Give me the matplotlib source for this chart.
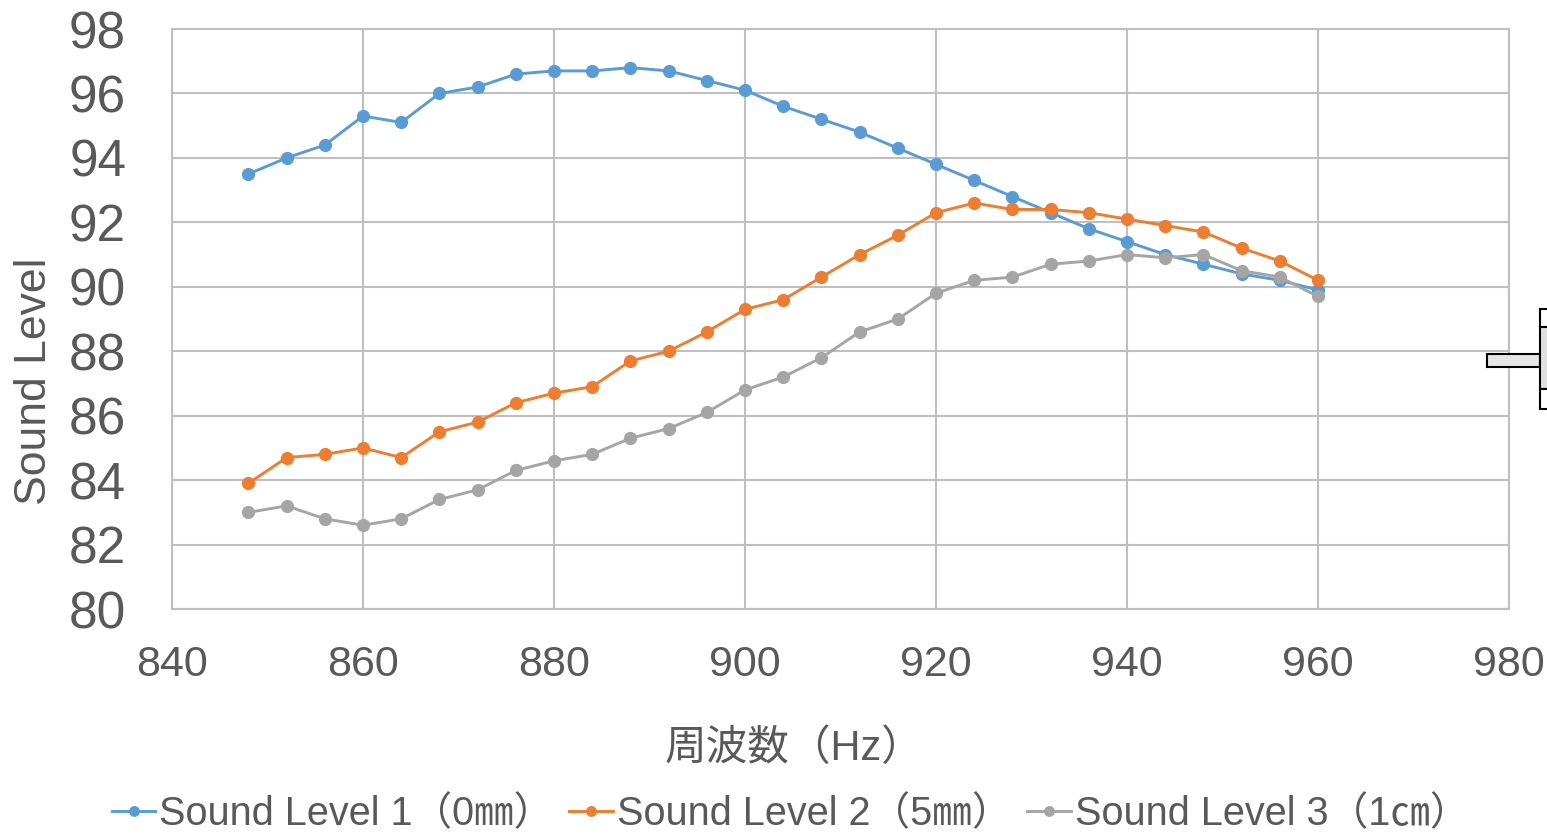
# plot.py
"""
Sound level vs frequency for three gap sizes (Excel-style line chart).
"""

import matplotlib
matplotlib.use('Agg')
import matplotlib.pyplot as plt
from matplotlib.patches import Rectangle

# ---------------------------------------------------------------------------
# Data
freq = [848, 852, 856, 860, 864, 868, 872, 876, 880, 884, 888, 892, 896, 900, 904,
        908, 912, 916, 920, 924, 928, 932, 936, 940, 944, 948, 952, 956, 960]

level_0mm = [93.5, 94.0, 94.4, 95.3, 95.1, 96.0, 96.2, 96.6, 96.7, 96.7, 96.8, 96.7, 96.4, 96.1, 95.6,
             95.2, 94.8, 94.3, 93.8, 93.3, 92.8, 92.3, 91.8, 91.4, 91.0, 90.7, 90.4, 90.2, 89.9]

level_5mm = [83.9, 84.7, 84.8, 85.0, 84.7, 85.5, 85.8, 86.4, 86.7, 86.9, 87.7, 88.0, 88.6, 89.3, 89.6,
             90.3, 91.0, 91.6, 92.3, 92.6, 92.4, 92.4, 92.3, 92.1, 91.9, 91.7, 91.2, 90.8, 90.2]

level_1cm = [83.0, 83.2, 82.8, 82.6, 82.8, 83.4, 83.7, 84.3, 84.6, 84.8, 85.3, 85.6, 86.1, 86.8, 87.2,
             87.8, 88.6, 89.0, 89.8, 90.2, 90.3, 90.7, 90.8, 91.0, 90.9, 91.0, 90.5, 90.3, 89.7]

series_labels = ['Sound Level 1（0㎜）', 'Sound Level 2（5㎜）', 'Sound Level 3（1㎝）']
series_colors = ['#5B9BD5', '#ED7D31', '#A5A5A5']

x_ticks = [840, 860, 880, 900, 920, 940, 960, 980]
y_ticks = [80, 82, 84, 86, 88, 90, 92, 94, 96, 98]

x_title = '周波数（Hz）'
y_title = 'Sound Level'

# ---------------------------------------------------------------------------
FONTS = ['Liberation Sans', 'Noto Sans CJK JP', 'DejaVu Sans']
plt.rcParams['font.family'] = FONTS
TEXT_COLOR = '#595959'
GRID_COLOR = '#BFBFBF'

fig = plt.figure(figsize=(15.47, 8.36), dpi=100)
ax = fig.add_axes([0.1112, 0.2715, 0.8643, 0.6938])

for values, label, color in zip([level_0mm, level_5mm, level_1cm], series_labels, series_colors):
    ax.plot(freq, values, color=color, linewidth=2.1, marker='o', markersize=8.5,
            label=label, zorder=3)

ax.set_xlim(x_ticks[0], x_ticks[-1])
ax.set_ylim(y_ticks[0], y_ticks[-1])
ax.set_xticks(x_ticks)
ax.set_yticks(y_ticks)
ax.grid(True, color=GRID_COLOR, linewidth=1.5, zorder=0)
ax.set_axisbelow(True)
for spine in ax.spines.values():
    spine.set_color(GRID_COLOR)
    spine.set_linewidth(1.5)

ax.tick_params(axis='x', length=0, pad=26, labelsize=31, labelcolor=TEXT_COLOR)
ax.tick_params(axis='y', length=0, pad=33, labelsize=37, labelcolor=TEXT_COLOR)

ax.set_xlabel(x_title, fontsize=30, color=TEXT_COLOR)
ax.xaxis.set_label_coords(0.465, -0.206)
ax.set_ylabel(y_title, fontsize=32, color=TEXT_COLOR)
ax.yaxis.set_label_coords(-0.0878, 0.393)

leg = fig.legend(loc='center', bbox_to_anchor=(0.511, 0.026), ncol=3, frameon=False,
                 fontsize=28.5, handlelength=1.1, handletextpad=0.1, columnspacing=0.4,
                 markerscale=0.8, labelcolor=TEXT_COLOR)

# stray clipped shape at the right edge of the original image
def fig_rect(x0, y0, x1, y1, face):
    W, H = 1547.0, 836.0
    fig.patches.append(Rectangle((x0 / W, 1 - y1 / H), (x1 - x0) / W, (y1 - y0) / H,
                                 transform=fig.transFigure, facecolor=face,
                                 edgecolor='black', linewidth=1.5, zorder=5))

fig_rect(1487, 354, 1540, 367, '#E6E6E6')
fig_rect(1540, 309, 1550, 327, 'white')
fig_rect(1540, 327, 1550, 389, '#E0E0E0')
fig_rect(1540, 389, 1550, 409, 'white')

fig.savefig('out.png', dpi=100)
